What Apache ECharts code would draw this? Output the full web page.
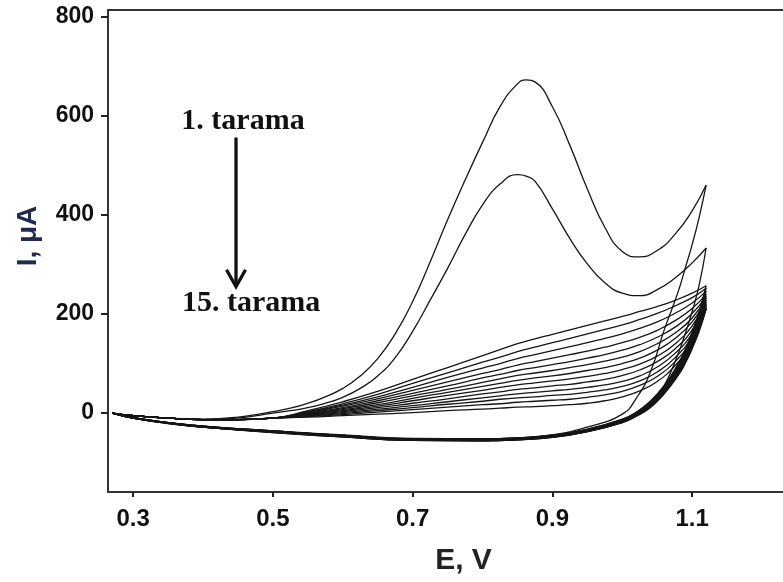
<!DOCTYPE html>
<html>
<head>
<meta charset="utf-8">
<script src="https://cdn.jsdelivr.net/npm/echarts@6/dist/echarts.min.js"></script>
<style>html,body{margin:0;padding:0;background:#fff}#chart{width:783px;height:582px}</style>
</head>
<body>
<div id="chart"></div>
<script>
// ---- data ----
const xTicks = [0.3, 0.5, 0.7, 0.9, 1.1];
const yTicks = [0, 200, 400, 600, 800];
// scans 1-2 (large oxidation peak), finer sampling
const potentialPeak = [0.27, 0.3, 0.35, 0.4, 0.45, 0.5, 0.525, 0.55, 0.575, 0.6, 0.625, 0.65, 0.675, 0.7, 0.725, 0.75, 0.775, 0.8, 0.825, 0.85, 0.8625, 0.875, 0.9, 0.925, 0.95, 0.975, 1.0, 1.025, 1.05, 1.075, 1.1, 1.12];
const scan1Fwd = [0,-5,-10,-12,-8,3,10,20,33,50,75,110,160,225,305,390,470,546,618,664,672,668,618,540,452,375,326,315,328,360,408,460];
const scan2Fwd = [0,-5,-10,-13,-10,0,5,11,20,32,50,75,112,165,228,292,360,420,462,481,478,468,412,352,301,263,242,237,249,272,303,333];
// scans 3-15 (forward)
const potentialFwd = [0.27, 0.3, 0.35, 0.4, 0.45, 0.5, 0.55, 0.6, 0.65, 0.7, 0.75, 0.8, 0.825, 0.85, 0.875, 0.9, 0.925, 0.95, 0.975, 1.0, 1.025, 1.05, 1.075, 1.1, 1.12];
const forwardScans = [
  [0,-5,-10,-13,-13,-10,5,23,44,68,92,116,128,140,150,159,168,177,186,195,205,215,227,242,257],
  [0,-5,-10,-13,-13,-10,3,19,38,60,81,103,113,124,133,142,151,160,169,178,189,201,216,233,252],
  [0,-5,-10,-13,-13,-10,2,16,33,52,72,91,100,110,118,126,134,142,151,160,171,184,201,222,246],
  [0,-5,-10,-13,-13,-10,1,14,29,46,63,80,88,97,104,111,118,125,133,142,153,167,186,211,240],
  [0,-5,-10,-13,-13,-10,0,11,25,40,55,71,78,86,92,98,104,111,118,127,138,153,173,201,236],
  [0,-5,-10,-13,-13,-10,-1,9,21,35,48,62,69,76,81,86,92,98,105,113,124,140,161,192,232],
  [0,-5,-10,-13,-13,-10,-2,7,17,30,42,54,60,66,71,75,80,86,92,100,111,127,150,184,228],
  [0,-5,-10,-13,-13,-10,-3,5,14,25,36,46,52,57,61,65,69,74,80,88,99,115,139,176,224],
  [0,-5,-10,-13,-13,-10,-4,3,11,20,29,39,43,48,51,55,58,63,68,76,87,104,129,168,221],
  [0,-5,-10,-13,-13,-10,-5,1,8,15,23,31,35,39,42,45,48,52,57,64,75,93,120,161,218],
  [0,-5,-10,-13,-13,-10,-6,-1,5,11,18,24,28,31,33,36,38,42,47,54,65,83,111,155,215],
  [0,-5,-10,-13,-13,-10,-7,-3,2,7,12,17,19,22,24,26,28,32,37,44,56,74,103,149,212],
  [0,-5,-10,-13,-13,-10,-8,-5,-2,1,5,8,10,12,13,15,17,20,25,33,45,64,95,143,210]
];
// reverse sweeps, scans 1-15
const potentialRev = [1.12, 1.11, 1.1, 1.09, 1.08, 1.06, 1.04, 1.02, 1.0, 0.95, 0.9, 0.85, 0.8, 0.7, 0.6, 0.5, 0.4, 0.35, 0.3, 0.27];
const reverseScans = [
  [460,395,340,292,245,168,82,30,-2,-28,-44,-50,-52,-52,-45,-37,-27,-20,-10,0],
  [333,258,205,160,120,55,15,-5,-18,-34,-45,-50,-52,-51,-44,-36,-26,-19,-9,0],
  [257,205,164,128,100,56,24,2,-12,-32,-44,-50,-52,-52,-45,-36,-26,-19,-9,0],
  [252,200,160,125,97,54,22,1,-13,-33,-45,-51,-53,-52,-45,-36,-26,-19,-9,0],
  [246,196,157,122,95,52,21,0,-14,-33,-45,-51,-53,-52,-45,-36,-26,-19,-9,0],
  [240,191,152,119,92,50,20,-1,-15,-34,-46,-51,-53,-52,-46,-37,-27,-19,-9,0],
  [236,188,150,117,90,49,19,-2,-15,-34,-46,-52,-54,-53,-46,-37,-27,-19,-9,0],
  [232,184,147,114,88,47,18,-3,-16,-35,-47,-52,-54,-53,-46,-37,-27,-20,-10,0],
  [228,181,144,112,86,46,17,-3,-16,-35,-47,-52,-54,-53,-46,-37,-27,-20,-10,0],
  [224,178,141,110,84,44,16,-4,-17,-36,-47,-53,-55,-54,-47,-38,-28,-20,-10,0],
  [221,175,139,108,82,43,15,-4,-17,-36,-48,-53,-55,-54,-47,-38,-28,-20,-10,0],
  [218,172,137,106,81,42,14,-5,-18,-36,-48,-53,-55,-54,-47,-38,-28,-20,-10,0],
  [215,170,135,104,79,41,13,-5,-18,-37,-48,-54,-56,-55,-48,-38,-28,-20,-10,0],
  [212,167,132,102,78,40,12,-6,-19,-37,-49,-54,-56,-55,-48,-39,-28,-21,-10,0],
  [210,165,130,100,76,39,11,-6,-19,-37,-49,-54,-56,-55,-48,-39,-28,-21,-10,0]
];
const annotationLabels = ['1. tarama', '15. tarama'];
const annotationAnchors = [[0.369, 588], [0.370, 222]];
const arrowFrom = [0.4472, 556];
const arrowTo = [0.4472, 255];

// ---- chart ----
const chart = echarts.init(document.getElementById('chart'), null, {renderer: 'canvas'});
const lineStyle = {color: '#161616', width: 1.3};
function makeSeries(name, xs, ys) {
  return {type: 'line', name: name, smooth: 0.5, showSymbol: false, silent: true,
    lineStyle: lineStyle, data: xs.map((e, j) => [e, ys[j]])};
}
const series = [makeSeries('fwd1', potentialPeak, scan1Fwd), makeSeries('fwd2', potentialPeak, scan2Fwd)];
forwardScans.forEach((vals, i) => series.push(makeSeries('fwd' + (i + 3), potentialFwd, vals)));
reverseScans.forEach((vals, i) => series.push(makeSeries('rev' + (i + 1), potentialRev, vals)));

const labelFont = {fontFamily: 'Liberation Sans', fontWeight: 'bold', color: '#111'};
chart.setOption({
  animation: false,
  backgroundColor: '#fff',
  grid: {left: 108, right: 0, top: 10, bottom: 90, containLabel: false},
  xAxis: [{
    type: 'value', min: 0.264, max: 1.23, position: 'bottom',
    axisLine: {show: true, onZero: false, lineStyle: {color: '#333', width: 2}},
    axisTick: {show: true, customValues: xTicks, length: 5, lineStyle: {color: '#222', width: 2}},
    axisLabel: Object.assign({customValues: xTicks, formatter: v => v.toFixed(1), fontSize: 24, margin: 15}, labelFont),
    splitLine: {show: false},
    name: 'E, V', nameLocation: 'middle', nameGap: 54,
    nameTextStyle: {fontFamily: 'Liberation Sans', fontWeight: 'bold', fontSize: 30, color: '#222', padding: [0, 0, 0, 36]}
  }, {
    type: 'value', min: 0.264, max: 1.23, position: 'top',
    axisLine: {show: true, onZero: false, lineStyle: {color: '#333', width: 2}},
    axisTick: {show: false}, axisLabel: {show: false}, splitLine: {show: false}
  }],
  yAxis: {
    type: 'value', min: -159, max: 813,
    axisLine: {show: true, onZero: false, lineStyle: {color: '#333', width: 2}},
    axisTick: {show: true, customValues: yTicks, length: 7, lineStyle: {color: '#222', width: 2}},
    axisLabel: Object.assign({customValues: yTicks, fontSize: 23, margin: 14}, labelFont),
    splitLine: {show: false},
    name: 'I, μA', nameLocation: 'middle', nameGap: 66, nameRotate: 90,
    nameTextStyle: {fontFamily: 'Liberation Sans', fontWeight: 'bold', fontSize: 28, color: '#1d2b4f', padding: [0, 0, 0, 30]}
  },
  series: series
});

// annotations positioned in data space
const p1 = chart.convertToPixel({gridIndex: 0}, annotationAnchors[0]);
const p2 = chart.convertToPixel({gridIndex: 0}, annotationAnchors[1]);
const a0 = chart.convertToPixel({gridIndex: 0}, arrowFrom);
const a1 = chart.convertToPixel({gridIndex: 0}, arrowTo);
const txtStyle = {font: 'bold 30px "Liberation Serif"', fill: '#111', verticalAlign: 'middle', align: 'left'};
chart.setOption({
  graphic: [
    {type: 'text', x: p1[0], y: p1[1], style: Object.assign({text: annotationLabels[0]}, txtStyle)},
    {type: 'text', x: p2[0], y: p2[1], style: Object.assign({text: annotationLabels[1]}, txtStyle)},
    {type: 'line', shape: {x1: a0[0], y1: a0[1], x2: a1[0], y2: a1[1] - 2}, style: {stroke: '#111', lineWidth: 3.3}},
    {type: 'polyline', shape: {points: [[a1[0] - 9.5, a1[1] - 17], [a1[0], a1[1]], [a1[0] + 9.5, a1[1] - 17]]}, style: {stroke: '#111', lineWidth: 3.3, fill: null}}
  ]
});
</script>
</body>
</html>
